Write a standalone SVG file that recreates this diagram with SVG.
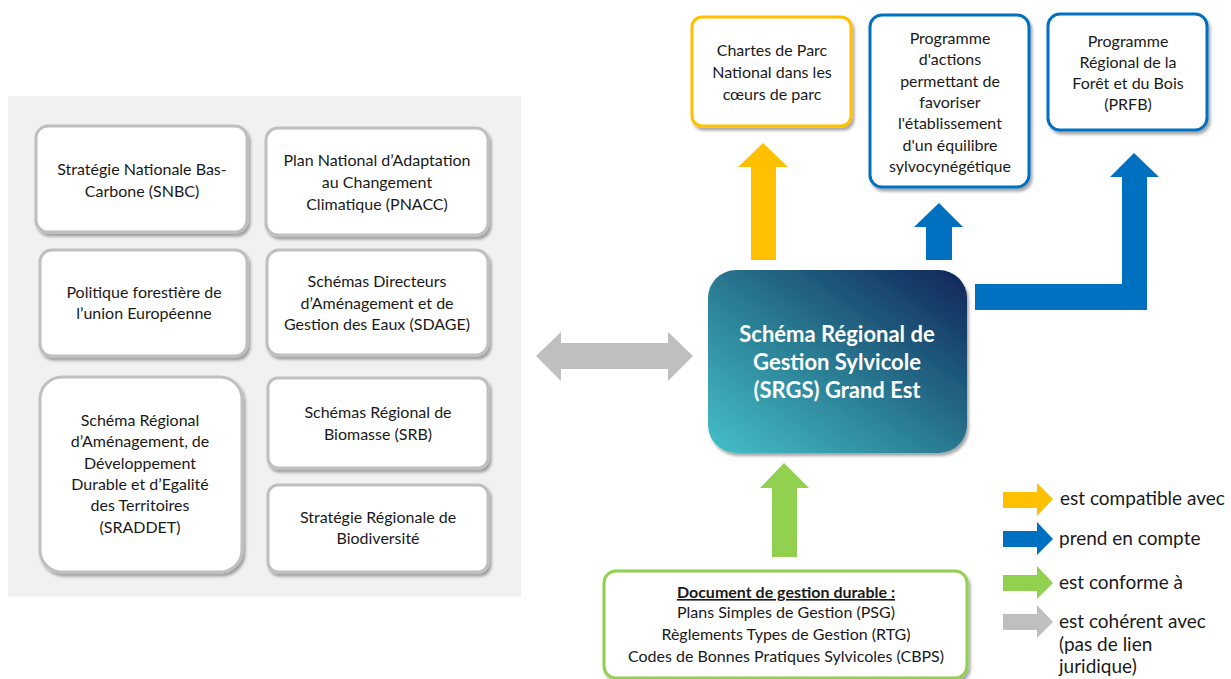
<svg xmlns="http://www.w3.org/2000/svg" width="1231" height="679" viewBox="0 0 1231 679">
<defs>
  <filter id="sh" x="-10%" y="-10%" width="125%" height="130%">
    <feDropShadow dx="2" dy="3" stdDeviation="1.5" flood-color="#000" flood-opacity="0.35"/>
  </filter>
  <linearGradient id="grad" x1="0" y1="1" x2="1" y2="0">
    <stop offset="0" stop-color="#45c0c8"/>
    <stop offset="0.45" stop-color="#2b7f95"/>
    <stop offset="1" stop-color="#0f2458"/>
  </linearGradient>
  <style>
    .t { font-family: Lato, "Liberation Sans", sans-serif; font-size: 16px; fill: #1a1a1a; text-anchor: middle; }
    .lg { font-family: Lato, "Liberation Sans", sans-serif; font-size: 19px; fill: #1a1a1a; }
    .gbox { fill: #fff; stroke: #bfbfbf; stroke-width: 3; filter: url(#sh); }
    .obox { fill: #fff; stroke: #ffc000; stroke-width: 3; filter: url(#sh); }
    .bbox { fill: #fff; stroke: #0070c0; stroke-width: 3; filter: url(#sh); }
    .grbox { fill: #fff; stroke: #92d050; stroke-width: 3; filter: url(#sh); }
    .ct { font-family: Lato, "Liberation Sans", sans-serif; font-size: 22px; font-weight: bold; fill: #fff; text-anchor: middle; }
  </style>
</defs>
<rect x="8" y="96" width="513" height="501" fill="#f1f1f1"/>

<g id="snbc">
  <rect class="gbox" x="36" y="126" width="211" height="106" rx="12"/>
  <text class="t" x="142" y="175">Stratégie Nationale Bas-</text>
  <text class="t" x="142" y="197">Carbone (SNBC)</text>
</g>
<g id="pnacc">
  <rect class="gbox" x="266" y="128" width="222" height="107" rx="12"/>
  <text class="t" x="377" y="166">Plan National d’Adaptation</text>
  <text class="t" x="377" y="188">au Changement</text>
  <text class="t" x="377" y="210">Climatique (PNACC)</text>
</g>
<g id="politique">
  <rect class="gbox" x="40" y="250" width="207" height="106" rx="12"/>
  <text class="t" x="144" y="298">Politique forestière de</text>
  <text class="t" x="144" y="319">l’union Européenne</text>
</g>
<g id="sdage">
  <rect class="gbox" x="267" y="250" width="221" height="105" rx="12"/>
  <text class="t" x="377" y="287">Schémas Directeurs</text>
  <text class="t" x="377" y="309">d’Aménagement et de</text>
  <text class="t" x="377" y="330">Gestion des Eaux (SDAGE)</text>
</g>
<g id="sraddet">
  <rect class="gbox" x="40" y="377" width="202" height="195" rx="22"/>
  <text class="t" x="140" y="426">Schéma Régional</text>
  <text class="t" x="140" y="447">d’Aménagement, de</text>
  <text class="t" x="140" y="469">Développement</text>
  <text class="t" x="140" y="490">Durable et d’Egalité</text>
  <text class="t" x="140" y="511">des Territoires</text>
  <text class="t" x="140" y="533">(SRADDET)</text>
</g>
<g id="srb">
  <rect class="gbox" x="268" y="378" width="220" height="90" rx="10"/>
  <text class="t" x="378" y="418">Schémas Régional de</text>
  <text class="t" x="378" y="440">Biomasse (SRB)</text>
</g>
<g id="srbio">
  <rect class="gbox" x="268" y="485" width="220" height="87" rx="10"/>
  <text class="t" x="378" y="523">Stratégie Régionale de</text>
  <text class="t" x="378" y="544">Biodiversité</text>
</g>

<g id="chartes">
  <rect class="obox" x="692" y="17" width="159" height="109" rx="10"/>
  <text class="t" x="772" y="56">Chartes de Parc</text>
  <text class="t" x="772" y="78">National dans les</text>
  <text class="t" x="772" y="100">cœurs de parc</text>
</g>
<g id="programme">
  <rect class="bbox" x="870" y="15" width="159" height="172" rx="12"/>
  <text class="t" x="950" y="44">Programme</text>
  <text class="t" x="950" y="65">d'actions</text>
  <text class="t" x="950" y="87">permettant de</text>
  <text class="t" x="950" y="108">favoriser</text>
  <text class="t" x="950" y="129">l'établissement</text>
  <text class="t" x="950" y="151">d'un équilibre</text>
  <text class="t" x="950" y="172">sylvocynégétique</text>
</g>
<g id="prfb">
  <rect class="bbox" x="1048" y="14" width="159" height="116" rx="12"/>
  <text class="t" x="1128" y="47">Programme</text>
  <text class="t" x="1128" y="68">Régional de la</text>
  <text class="t" x="1128" y="89">Forêt et du Bois</text>
  <text class="t" x="1128" y="110">(PRFB)</text>
</g>

<g id="srgs">
  <rect x="708" y="270" width="259" height="183" rx="28" fill="url(#grad)" filter="url(#sh)"/>
  <text class="ct" x="837" y="342">Schéma Régional de</text>
  <text class="ct" x="837" y="370">Gestion Sylvicole</text>
  <text class="ct" x="837" y="398">(SRGS) Grand Est</text>
</g>

<g id="documents">
  <rect class="grbox" x="604" y="571" width="363" height="107" rx="12"/>
  <text class="t" x="786" y="598" font-weight="bold" text-decoration="underline">Document de gestion durable :</text>
  <text class="t" x="786" y="618">Plans Simples de Gestion (PSG)</text>
  <text class="t" x="786" y="640">Règlements Types de Gestion (RTG)</text>
  <text class="t" x="786" y="662">Codes de Bonnes Pratiques Sylvicoles (CBPS)</text>
</g>

<g id="connectors">
  <polygon fill="#ffc000" points="751,260 751,167 738,167 763,143 788,167 776,167 776,260"/>
  <polygon fill="#0070c0" points="926,260 926,227 914,227 939,203 963,227 952,227 952,260"/>
  <polygon fill="#0070c0" points="975,284 1122,284 1122,177 1110,177 1134,153 1159,177 1147,177 1147,310 975,310"/>
  <polygon fill="#92d050" points="772,557 772,488 760,488 784,463 809,488 797,488 797,557"/>
  <polygon fill="#bfbfbf" points="536,356 561,332 561,343 668,343 668,332 693,356 668,381 668,369 561,369 561,381"/>
</g>

<g id="legend">
  <polygon fill="#ffc000" points="1003,492 1037,492 1037,483 1053,499 1037,516 1037,508 1003,508"/>
  <polygon fill="#0070c0" points="1003,531 1037,531 1037,522 1053,539 1037,555 1037,547 1003,547"/>
  <polygon fill="#92d050" points="1003,575 1037,575 1037,566 1053,583 1037,599 1037,591 1003,591"/>
  <polygon fill="#bfbfbf" points="1003,614 1037,614 1037,605 1053,622 1037,638 1037,630 1003,630"/>
  <text class="lg" x="1060" y="505">est compatible avec</text>
  <text class="lg" x="1059" y="545">prend en compte</text>
  <text class="lg" x="1059" y="589">est conforme à</text>
  <text class="lg" x="1059" y="628">est cohérent avec</text>
  <text class="lg" x="1059" y="651">(pas de lien</text>
  <text class="lg" x="1059" y="673">juridique)</text>
</g>
</svg>
